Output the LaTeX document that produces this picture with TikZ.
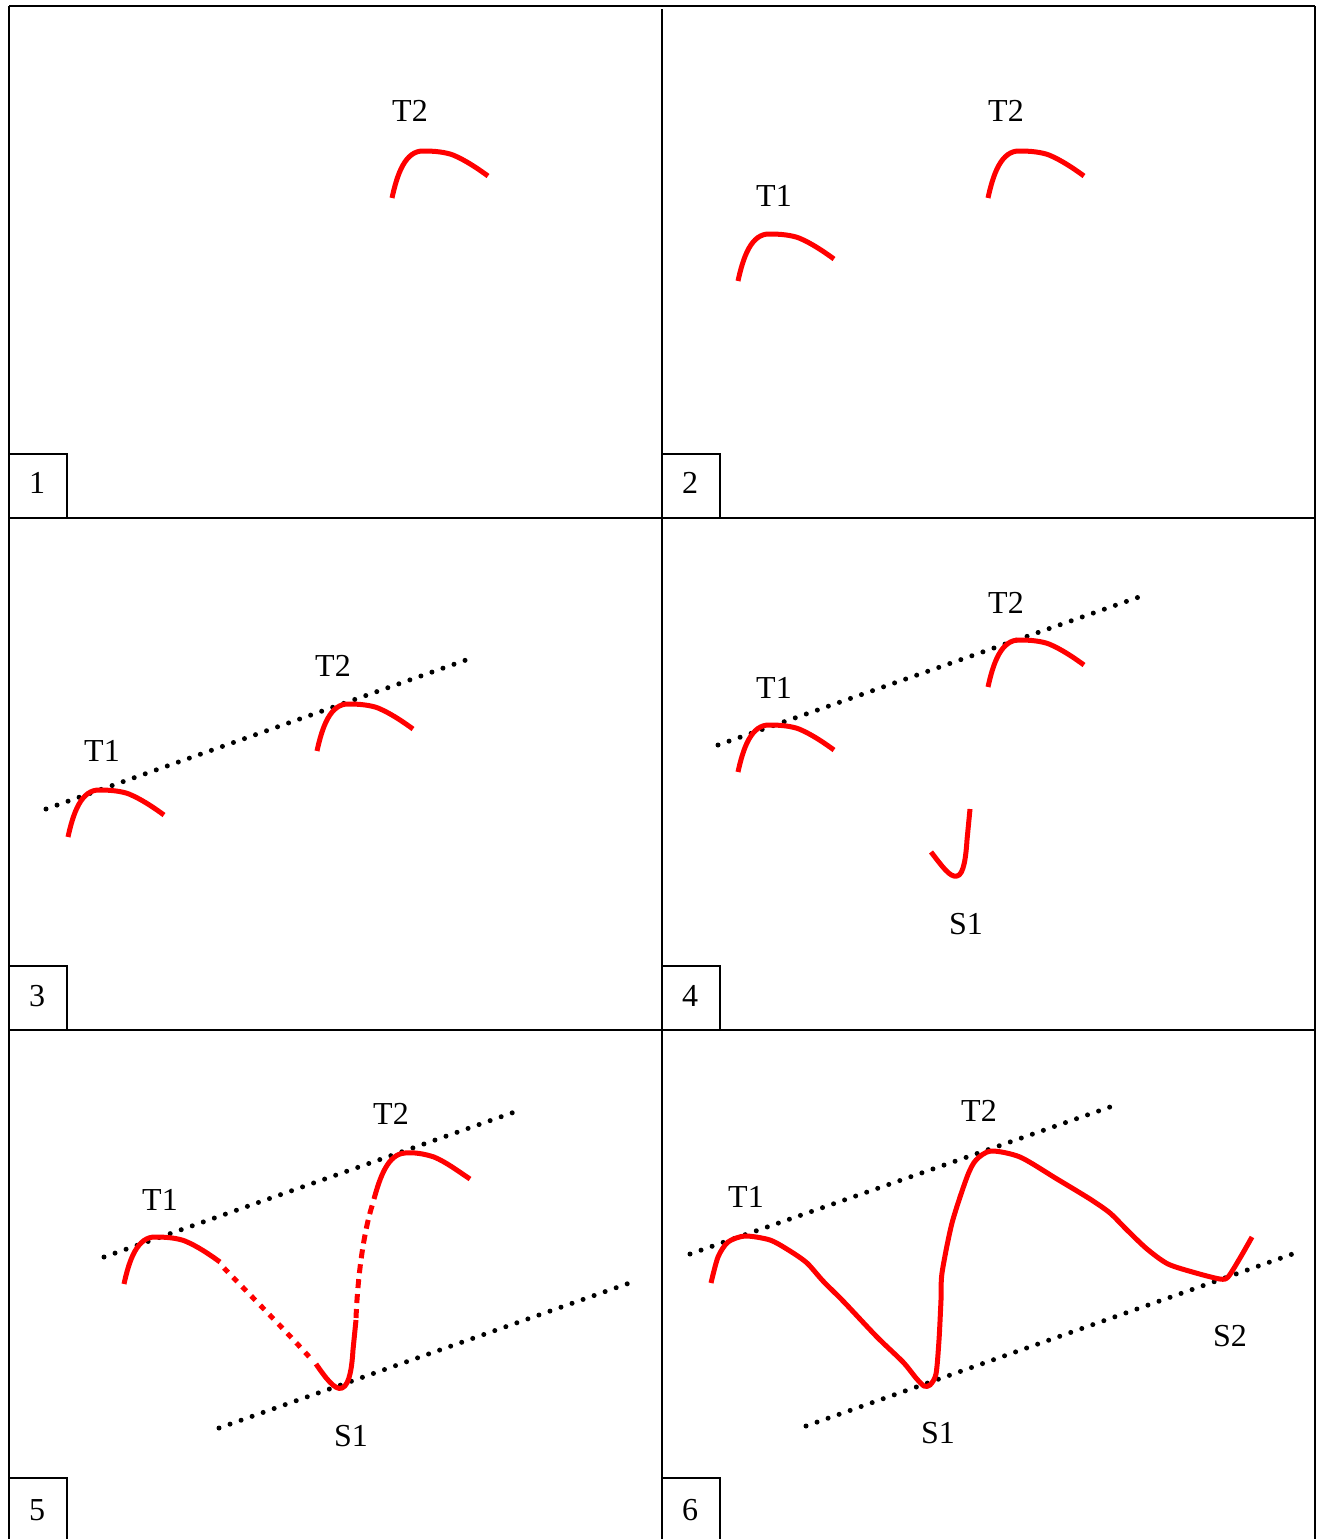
\documentclass[tikz,border=0pt]{standalone}
\usepackage{fontspec}
\setmainfont{Liberation Serif}
\begin{document}
\begin{tikzpicture}[x=1pt,y=-1pt,
  frame/.style={line width=1.6pt,black},
  outer/.style={line width=2.4pt,black},
  redcurve/.style={line width=5pt,red,line join=round},
  reddash/.style={line width=5pt,red,dash pattern=on 6pt off 7pt},
  reddashlong/.style={line width=5pt,red,dash pattern=on 9pt off 6pt},
  dotline/.style={line width=5pt,black,line cap=round,dash pattern=on 0pt off 11.7pt},
  lbl/.style={font=\fontsize{32}{36}\selectfont,inner sep=0pt},
  numbox/.style={font=\fontsize{32}{36}\selectfont,inner sep=0pt},
  tcap/.pic={\draw[redcurve] (-32,47) .. controls (-27,24) and (-19,-1) .. (0,0) .. controls (10,0) and (21,1) .. (29,4) .. controls (41,9) and (53,17) .. (64,25);}
]
\useasboundingbox (0,0) rectangle (1323,1539);
\clip (0,0) rectangle (1323,1539);
\fill[white] (0,0) rectangle (1323,1539);

% grid
\draw[outer] (9,6) -- (1315,6);
\draw[frame] (9,6) -- (9,1560);
\draw[outer] (1315,6) -- (1315,1560);
\draw[frame] (662,9) -- (662,1560);
\draw[frame] (9,518) -- (1315,518);
\draw[frame] (9,1030) -- (1315,1030);

% number boxes
\draw[frame] (9,454) rectangle (67,518);
\draw[frame] (662,454) rectangle (720,518);
\draw[frame] (9,966) rectangle (67,1030);
\draw[frame] (662,966) rectangle (720,1030);
\draw[frame] (9,1478) -- (67,1478) -- (67,1560);
\draw[frame] (662,1478) -- (720,1478) -- (720,1560);
\node[numbox] (n1) at (37,483) {1};
\node[numbox] (n2) at (690,483) {2};
\node[numbox] (n3) at (37,996) {3};
\node[numbox] (n4) at (690,996) {4};
\node[numbox] (n5) at (37,1510) {5};
\node[numbox] (n6) at (690,1510) {6};

% panel 1
\pic at (424,151) {tcap};
\node[lbl] (p1t2) at (410,111) {T2};

% panel 2
\pic at (770,234) {tcap};
\pic at (1020,151) {tcap};
\node[lbl] (p2t1) at (774,196) {T1};
\node[lbl] (p2t2) at (1006,111) {T2};

% panel 3
\draw[dotline] (46,809) -- (466,660);
\pic at (100,790) {tcap};
\pic at (349,704) {tcap};
\node[lbl] (p3t1) at (102,751) {T1};
\node[lbl] (p3t2) at (333,666) {T2};

% panel 4
\draw[dotline] (718,745) -- (1139,597);
\pic at (770,725) {tcap};
\pic at (1020,640) {tcap};
\draw[redcurve] (931,852) .. controls (942,866) and (950,878) .. (957,876) .. controls (964,875) and (966,855) .. (967,840) -- (970,809);
\node[lbl] (p4t1) at (774,688) {T1};
\node[lbl] (p4t2) at (1006,603) {T2};
\node[lbl] (p4s1) at (966,924) {S1};

% panel 5
\draw[dotline] (104,1257) -- (523,1109);
\draw[dotline] (219,1428) -- (638,1280);
\pic at (156,1237) {tcap};
\draw[reddash] (224,1268) .. controls (255,1300) and (285,1330) .. (313,1361);
\draw[redcurve] (316,1364) .. controls (325,1377) and (335,1391) .. (342,1388) .. controls (350,1385) and (352,1365) .. (353,1350) -- (356,1320);
\draw[reddashlong] (356,1318) .. controls (358,1270) and (365,1225) .. (374,1200);
\draw[redcurve] (374,1199) .. controls (380,1177) and (388,1154) .. (405,1153) .. controls (414,1152) and (425,1154) .. (434,1157) .. controls (446,1162) and (458,1171) .. (470,1179);
\node[lbl] (p5t1) at (160,1200) {T1};
\node[lbl] (p5t2) at (391,1114) {T2};
\node[lbl] (p5s1) at (351,1436) {S1};

% panel 6
\draw[dotline] (690,1254) -- (1110,1107);
\draw[dotline] (806,1426) -- (1301,1251);
\draw[redcurve] plot[smooth,tension=0.45] coordinates {(711,1283) (718,1257) (728,1242) (745,1236) (770,1240) (790,1251) (807,1263) (823,1281) (844,1302) (877,1337) (903,1362) (916,1378) (924,1386) (930,1385) (936,1374) (939,1340) (941,1300) (942,1273) (952,1223) (967,1177) (976,1160) (991,1151) (1020,1157) (1057,1179) (1090,1199) (1110,1213) (1127,1230) (1147,1249) (1168,1264) (1196,1273) (1220,1279) (1228,1277) (1240,1258) (1252,1237)};
\node[lbl] (p6t1) at (746,1197) {T1};
\node[lbl] (p6t2) at (979,1111) {T2};
\node[lbl] (p6s1) at (938,1433) {S1};
\node[lbl] (p6s2) at (1230,1336) {S2};
\end{tikzpicture}
\end{document}
